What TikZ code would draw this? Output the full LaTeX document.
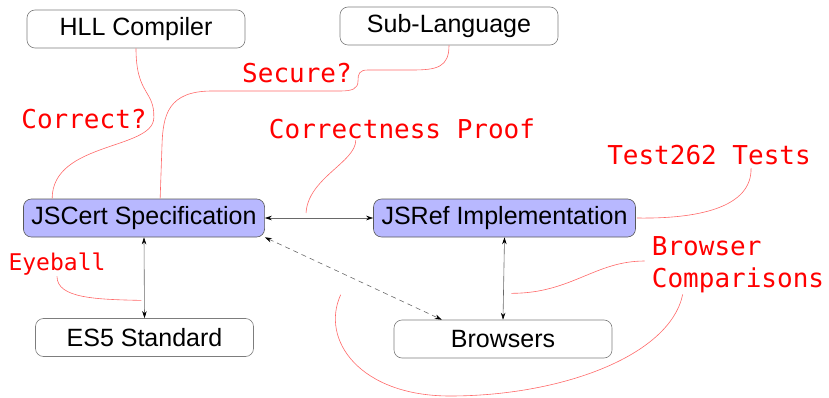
\documentclass[tikz,border=0pt]{standalone}
\usepackage{fontspec}
\setmainfont{Liberation Sans}
\newfontfamily\handfont{DejaVu Sans Mono}
\usetikzlibrary{arrows.meta,positioning,calc}
\definecolor{mLav}{RGB}{184,184,255}
\definecolor{mEdge}{RGB}{125,125,125}
\definecolor{mLine}{RGB}{105,105,105}
\definecolor{mNote}{RGB}{255,0,0}
\definecolor{mNoteLine}{RGB}{255,105,105}

\begin{document}
\begin{tikzpicture}[
    x=1pt, y=1pt,
    font=\fontsize{25}{28}\selectfont,
    box/.style={draw=mEdge, rounded corners=8pt, minimum width=218pt, minimum height=38pt, inner xsep=8pt, line width=0.6pt},
    spec/.style={box, fill=mLav, draw=mEdge!70!black},
    note/.style={text=mNote, inner sep=1pt, font=\handfont\fontsize{26}{32}\selectfont},
    noteline/.style={draw=mNoteLine, line width=0.6pt},
    link/.style={draw=mLine, line width=0.6pt, {Stealth[black, length=7pt, width=4.5pt]}-{Stealth[black, length=7pt, width=4.5pt]}}
]
  \useasboundingbox (0,0) rectangle (829,-398);

  % the six boxes
  \node[box] (hll) at (136,-29) {HLL Compiler};
  \node[box] (sub) at (449,-26) {Sub-Language};
  \node[spec] (jscert) at (144,-218) {JSCert Specification};
  \node[spec] (jsref) at (504.5,-218) {JSRef Implementation};
  \node[box] (es5) at (144.5,-337.5) {ES5 Standard};
  \node[box] (browsers) at (503,-339) {Browsers};

  \draw[link] (jscert.east) -- (jsref.west);
  \draw[link] (jscert.south) -- (es5.north);
  \draw[link] (jsref.south) -- (browsers.north);
  \coordinate (brtop) at ($(browsers.north west)!0.22!(browsers.north east)$);
  \draw[link, dash pattern=on 5pt off 4pt] (jscert.south east) -- (brtop);

  % hand written remarks
  \node[note] (corr) at (84,-119) {Correct?};
  \node[note] (secure) at (297,-73) {Secure?};
  \node[note] (proof) at (402,-129) {Correctness Proof};
  \node[note] (test) at (709,-155) {Test262 Tests};
  \node[note, font=\handfont\fontsize{23}{28}\selectfont] (eye) at (57,-264) {Eyeball};
  \node[note, align=left] (cmp) at (738,-265) {Browser\\Comparisons};

  \coordinate (jsTopA) at ($(jscert.north west)+(29,0)$);
  \coordinate (jsTopB) at ($(jscert.north west)+(137,0)$);
  \coordinate (corrTurn) at ($(corr.east)+(6,1)$);
  \draw[noteline] (hll.south) .. controls +(0,-47) and +(1,28) .. (corrTurn)
    .. controls +(-1,-32) and +(0,57) .. (jsTopA);
  \draw[noteline] (sub.south) .. controls +(0,-22) and +(25,0) .. (412,-70) -- (368,-70)
    .. controls (359,-70) and (358,-74) .. (358,-81)
    .. controls (358,-89) and (352,-91) .. (340,-91) -- (212,-91)
    .. controls (168,-91) and (163,-115) .. (162,-145) -- (jsTopB);

  \coordinate (proofFoot) at ($(proof.south west)+(88,0)$);
  \coordinate (proofEnd) at ($(jscert.east)!0.38!(jsref.west)+(0,5)$);
  \draw[noteline] (proofFoot) .. controls +(0,-22) and +(2,35) .. (proofEnd);

  \coordinate (testFoot) at ($(test.south west)+(145,-2)$);
  \draw[noteline] (testFoot) .. controls +(1,-40) and +(60,-1) .. ([xshift=1pt]jsref.east);

  \coordinate (eyeEnd) at ($(jscert.south)!0.78!(es5.north)+(-3,0)$);
  \draw[noteline] (eye.south) .. controls +(0,-22) and +(-45,1) .. (eyeEnd);

  \coordinate (cmpEnd) at ($(jsref.south)!0.68!(browsers.north)+(8,0)$);
  \draw[noteline] ($(cmp.west)+(-6,4)$) .. controls +(-50,0) and +(60,0) .. (cmpEnd);
  \coordinate (cmpFoot) at ($(cmp.south west)+(32,0)$);
  \coordinate (loopEnd) at ($(browsers.north west)+(-53,25)$);
  \draw[noteline] (cmpFoot) .. controls +(-13,-62) and +(110,0) .. (450,-396)
    .. controls (360,-396) and (320,-340) .. (loopEnd);
\end{tikzpicture}
\end{document}
